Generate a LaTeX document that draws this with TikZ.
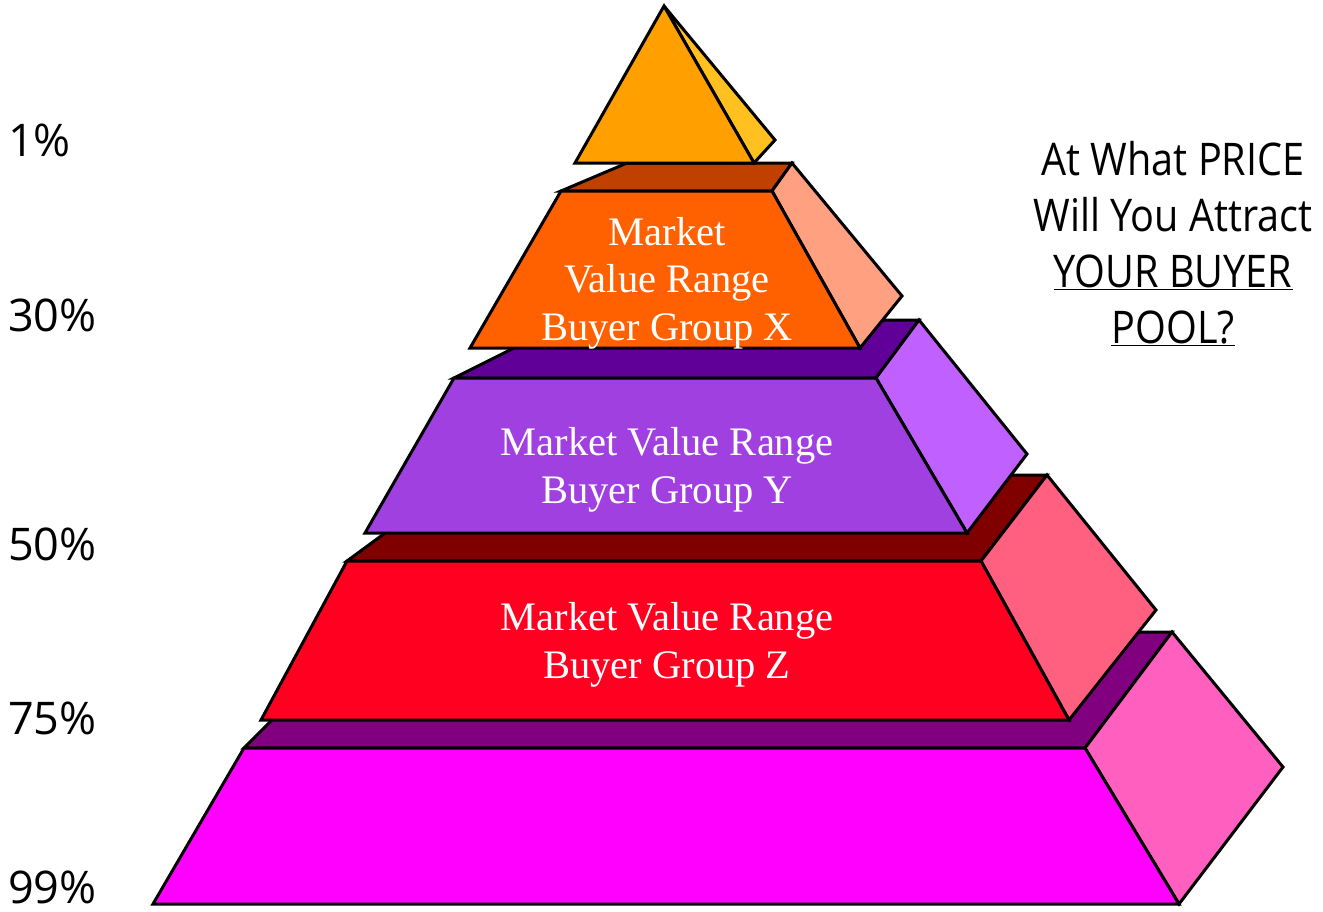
\documentclass[tikz,border=0pt]{standalone}
\usepackage{fontspec}
\setmainfont{Liberation Serif}
\newfontfamily\labelfont{Open Sans}
\newfontfamily\questfont[FakeStretch=0.88]{Open Sans}
\definecolor{apexF}{HTML}{FFA000}
\definecolor{apexS}{HTML}{FFC020}
\definecolor{orF}{HTML}{FF6000}
\definecolor{orT}{HTML}{C04000}
\definecolor{orS}{HTML}{FFA080}
\definecolor{puF}{HTML}{A040E0}
\definecolor{puT}{HTML}{600099}
\definecolor{puS}{HTML}{C060FF}
\definecolor{reF}{HTML}{FF0020}
\definecolor{reT}{HTML}{800000}
\definecolor{reS}{HTML}{FF6080}
\definecolor{maF}{HTML}{FF00FF}
\definecolor{maT}{HTML}{800080}
\definecolor{maS}{HTML}{FF60C0}
\tikzset{
  face/.style={draw=black, line width=3pt, line join=miter},
  tiertext/.style={text=white, align=center, font=\fontsize{40.5}{47.5}\selectfont, inner sep=0pt, anchor=base},
  pct/.style={anchor=base west, inner sep=0pt, text depth=0pt, font=\labelfont\fontsize{45}{54}\selectfont},
  question/.style={align=center, inner sep=0pt, anchor=base, font=\questfont\fontsize{45}{56}\selectfont}
}
\begin{document}
\begin{tikzpicture}[x=1pt, y=-1pt]
\useasboundingbox (0,0) rectangle (1323,911);
\fill[white] (0,0) rectangle (1323,911);
% bottom tier (magenta)
\path[face, fill=maT] (244,748) -- (360,632) -- (1172,632) -- (1085,748) -- cycle;
\path[face, fill=maS] (1085,748) -- (1172,632) -- (1283,767) -- (1179,904) -- cycle;
\path[face, fill=maF] (244,748) -- (1085,748) -- (1179,904) -- (153,904) -- cycle;
% red tier
\path[face, fill=reT] (347,561) -- (464,475) -- (1047,475) -- (981,561) -- cycle;
\path[face, fill=reS] (981,561) -- (1047,475) -- (1156,610) -- (1069,720) -- cycle;
\path[face, fill=reF] (347,561) -- (981,561) -- (1069,720) -- (261,720) -- cycle;
% purple tier
\path[face, fill=puT] (454,378) -- (570,320) -- (919,320) -- (876,378) -- cycle;
\path[face, fill=puS] (876,378) -- (919,320) -- (1027,454) -- (967,533) -- cycle;
\path[face, fill=puF] (454,378) -- (876,378) -- (967,533) -- (365,533) -- cycle;
% orange tier
\path[face, fill=orT] (561,191) -- (627,163) -- (792,163) -- (772,191) -- cycle;
\path[face, fill=orS] (772,191) -- (792,163) -- (902,296) -- (860,348) -- cycle;
\path[face, fill=orF] (561,191) -- (772,191) -- (860,348) -- (470,348) -- cycle;
% apex
\path[face, fill=apexS] (664,6) -- (775,140) -- (754,163) -- cycle;
\path[face, fill=apexF] (664,6) -- (754,163) -- (575,163) -- cycle;
% tier texts (anchor at baseline of last line)
\node[tiertext] (tx) at (667,340) {Market\\Value Range\\Buyer Group X};
\node[tiertext] (ty) at (667,503) {Market Value Range\\Buyer Group Y};
\node[tiertext] (tz) at (667,678) {Market Value Range\\Buyer Group Z};
% percentage labels
\node[pct] (p1) at (8,156) {1\%};
\node[pct] (p30) at (8,331) {30\%};
\node[pct] (p50) at (8,560) {50\%};
\node[pct] (p75) at (8,734) {75\%};
\node[pct] (p99) at (8,903) {99\%};
% question
\node[question] (q) at (1173,343) {At What PRICE\\Will You Attract\\\underline{YOUR BUYER}\\\underline{POOL?}};
\end{tikzpicture}
\end{document}
